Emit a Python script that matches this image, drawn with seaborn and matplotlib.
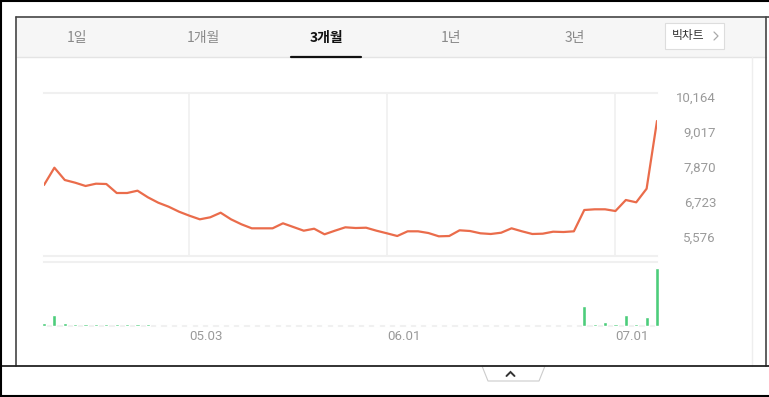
import matplotlib
matplotlib.use("Agg")
import matplotlib.pyplot as plt
from matplotlib.patches import Rectangle, Polygon
from matplotlib.lines import Line2D
import numpy as np
import pandas as pd
import seaborn as sns

# ---------------- data ----------------
prices = [7271, 7837, 7434, 7346, 7238, 7313, 7303, 7008, 7008, 7084,
          6867, 6690, 6559, 6395, 6264, 6146, 6212, 6363, 6146, 5983,
          5851, 5851, 5851, 6015, 5894, 5773, 5838, 5655, 5773, 5884,
          5861, 5871, 5773, 5688, 5599, 5753, 5753, 5697, 5589, 5599,
          5786, 5763, 5688, 5665, 5707, 5851, 5753, 5665, 5675, 5740,
          5730, 5753, 6451, 6474, 6474, 6418, 6779, 6703, 7149, 9368]
volumes = [300000, 1100000, 250000, 120000, 110000, 110000, 120000, 110000, 130000, 110000,
           120000, 100000, 100000, 90000, 90000, 80000, 80000, 70000, 70000, 60000,
           60000, 50000, 40000, 30000, 30000, 30000, 30000, 30000, 30000, 30000,
           30000, 30000, 30000, 30000, 30000, 30000, 30000, 30000, 30000, 30000,
           30000, 30000, 30000, 30000, 30000, 30000, 30000, 30000, 30000, 30000,
           30000, 60000, 2000000, 120000, 320000, 120000, 1100000, 120000, 860000, 5760000]
price_ticks = [10164, 9017, 7870, 6723, 5576]
date_tick_index = [14, 33, 55]
date_tick_labels = ["05.03", "06.01", "07.01"]
tabs = ["1일", "1개월", "3개월", "1년", "3년"]
selected_tab = "3개월"
button_label = "빅차트"

df = pd.DataFrame({"idx": np.arange(len(prices)), "price": prices, "volume": volumes})

# ---------------- style ----------------
sns.set_theme(style="white")
plt.rcParams["font.family"] = ["Noto Sans CJK KR", "DejaVu Sans"]

W, H = 769, 397
fig = plt.figure(figsize=(W / 100, H / 100), dpi=100)
fig.patch.set_facecolor("white")


def fx(x):
    return x / W


def fy(y):
    return 1 - y / H


def ax_rect(x0, y0, x1, y1):
    return [fx(x0), fy(y1), fx(x1) - fx(x0), fy(y0) - fy(y1)]


LINE_C = "#ea6c4b"
BAR_C = "#4ccd7b"
GRID_C = "#f0f0f0"
TXT_C = "#9a9a9a"

# ---------------- frame / tab bar ----------------
fig.add_artist(Rectangle((fx(17), fy(57)), fx(766) - fx(17), fy(18) - fy(57),
                         transform=fig.transFigure, facecolor="#f6f6f6", edgecolor="none"))
fig.add_artist(Line2D([fx(17), fx(766)], [fy(57), fy(57)], transform=fig.transFigure,
                      color="#e4e4e4", lw=1))
# panel borders
fig.add_artist(Line2D([fx(16), fx(769)], [fy(17), fy(17)], transform=fig.transFigure, color="#444", lw=1.2))
fig.add_artist(Line2D([fx(16), fx(16)], [fy(17), fy(366)], transform=fig.transFigure, color="#444", lw=1.2))
fig.add_artist(Line2D([fx(766), fx(766)], [fy(17), fy(366)], transform=fig.transFigure, color="#444", lw=1.2))
fig.add_artist(Line2D([fx(752), fx(752)], [fy(57), fy(366)], transform=fig.transFigure, color="#eeeeee", lw=1))
# bottom small tab
fig.add_artist(Polygon([[fx(482), fy(366)], [fx(488), fy(381)], [fx(539), fy(381)], [fx(545), fy(366)]],
                       closed=True, transform=fig.transFigure, facecolor="white",
                       edgecolor="#cccccc", lw=0.8))
fig.add_artist(Line2D([fx(506.5), fx(510.5), fx(514.5)], [fy(376), fy(372), fy(376)],
                      transform=fig.transFigure, color="#333", lw=1.4,
                      solid_capstyle="round", solid_joinstyle="miter"))
fig.add_artist(Line2D([fx(0), fx(769)], [fy(366), fy(366)], transform=fig.transFigure, color="#222", lw=1.3))
# outer frame
fig.add_artist(Line2D([fx(0), fx(769)], [fy(1), fy(1)], transform=fig.transFigure, color="#000", lw=1.5))
fig.add_artist(Line2D([fx(1), fx(1)], [fy(0), fy(397)], transform=fig.transFigure, color="#000", lw=1.5))
fig.add_artist(Line2D([fx(0), fx(769)], [fy(395.5), fy(395.5)], transform=fig.transFigure, color="#000", lw=1.5))

tab_x = [77, 203, 326, 451, 575]
for name, x in zip(tabs, tab_x):
    sel = name == selected_tab
    fig.text(fx(x), fy(38), name, ha="center", va="center", fontsize=10,
             color="#111" if sel else "#8a8a8a", fontweight="bold" if sel else "normal")
fig.add_artist(Line2D([fx(291), fx(361)], [fy(56.5), fy(56.5)], transform=fig.transFigure,
                      color="#111", lw=1.6))
# big chart button
fig.add_artist(Rectangle((fx(665), fy(49)), fx(724) - fx(665), fy(23) - fy(49),
                         transform=fig.transFigure, facecolor="white", edgecolor="#dddddd", lw=0.8))
fig.text(fx(688), fy(36), button_label, ha="center", va="center", fontsize=8.5, color="#333")
fig.add_artist(Line2D([fx(714), fx(718), fx(714)], [fy(32), fy(36), fy(40)],
                      transform=fig.transFigure, color="#aaa", lw=0.9))

# ---------------- price panel ----------------
ax = fig.add_axes(ax_rect(44, 93.3, 657, 256))
sns.lineplot(data=df, x="idx", y="price", ax=ax, color=LINE_C, linewidth=1.6)
ax.set_xlim(0, len(prices) - 1)
ax.set_ylim(4944, 10275)
ax.set_facecolor("none")
for s in ["left", "right"]:
    ax.spines[s].set_visible(False)
for s in ["top", "bottom"]:
    ax.spines[s].set_color(GRID_C)
    ax.spines[s].set_linewidth(1.5)
ax.set_xticks(date_tick_index)
ax.set_xticklabels([])
ax.grid(axis="x", color=GRID_C, lw=1.2)
ax.yaxis.tick_right()
ax.set_yticks(price_ticks)
ax.set_yticklabels([f"{v:,}" for v in price_ticks], fontsize=9.5, color=TXT_C,
                   family=["Roboto", "DejaVu Sans"])
for lab in ax.get_yticklabels():
    lab.set_ha("right")
ax.tick_params(axis="y", length=0, pad=42.5)
ax.tick_params(axis="x", length=0)
ax.set_xlabel("")
ax.set_ylabel("")

# ---------------- volume panel ----------------
ax2 = fig.add_axes(ax_rect(44, 262.3, 657, 325.5))
sns.barplot(data=df, x="idx", y="volume", ax=ax2, native_scale=True, color=BAR_C,
            width=0.4, saturation=1)
for p in ax2.patches:
    p.set_clip_on(False)
    p.set_zorder(3)
ax2.set_xlim(0, len(prices) - 1)
ax2.set_ylim(0, 6350000)
ax2.set_facecolor("none")
for s in ["left", "right"]:
    ax2.spines[s].set_visible(False)
for s in ["top", "bottom"]:
    ax2.spines[s].set_color(GRID_C)
    ax2.spines[s].set_linewidth(1.5)
    ax2.spines[s].set_zorder(0.5)
ax2.set_yticks([])
ax2.set_xticks(date_tick_index)
ax2.set_xticklabels(date_tick_labels, fontsize=9.5, color=TXT_C, family=["Roboto", "DejaVu Sans"])
for lab in ax2.get_xticklabels():
    lab.set_ha("left")
ax2.tick_params(axis="x", length=0, pad=3.5)
ax2.set_xlabel("")
ax2.set_ylabel("")

fig.savefig("out.png", dpi=100)
